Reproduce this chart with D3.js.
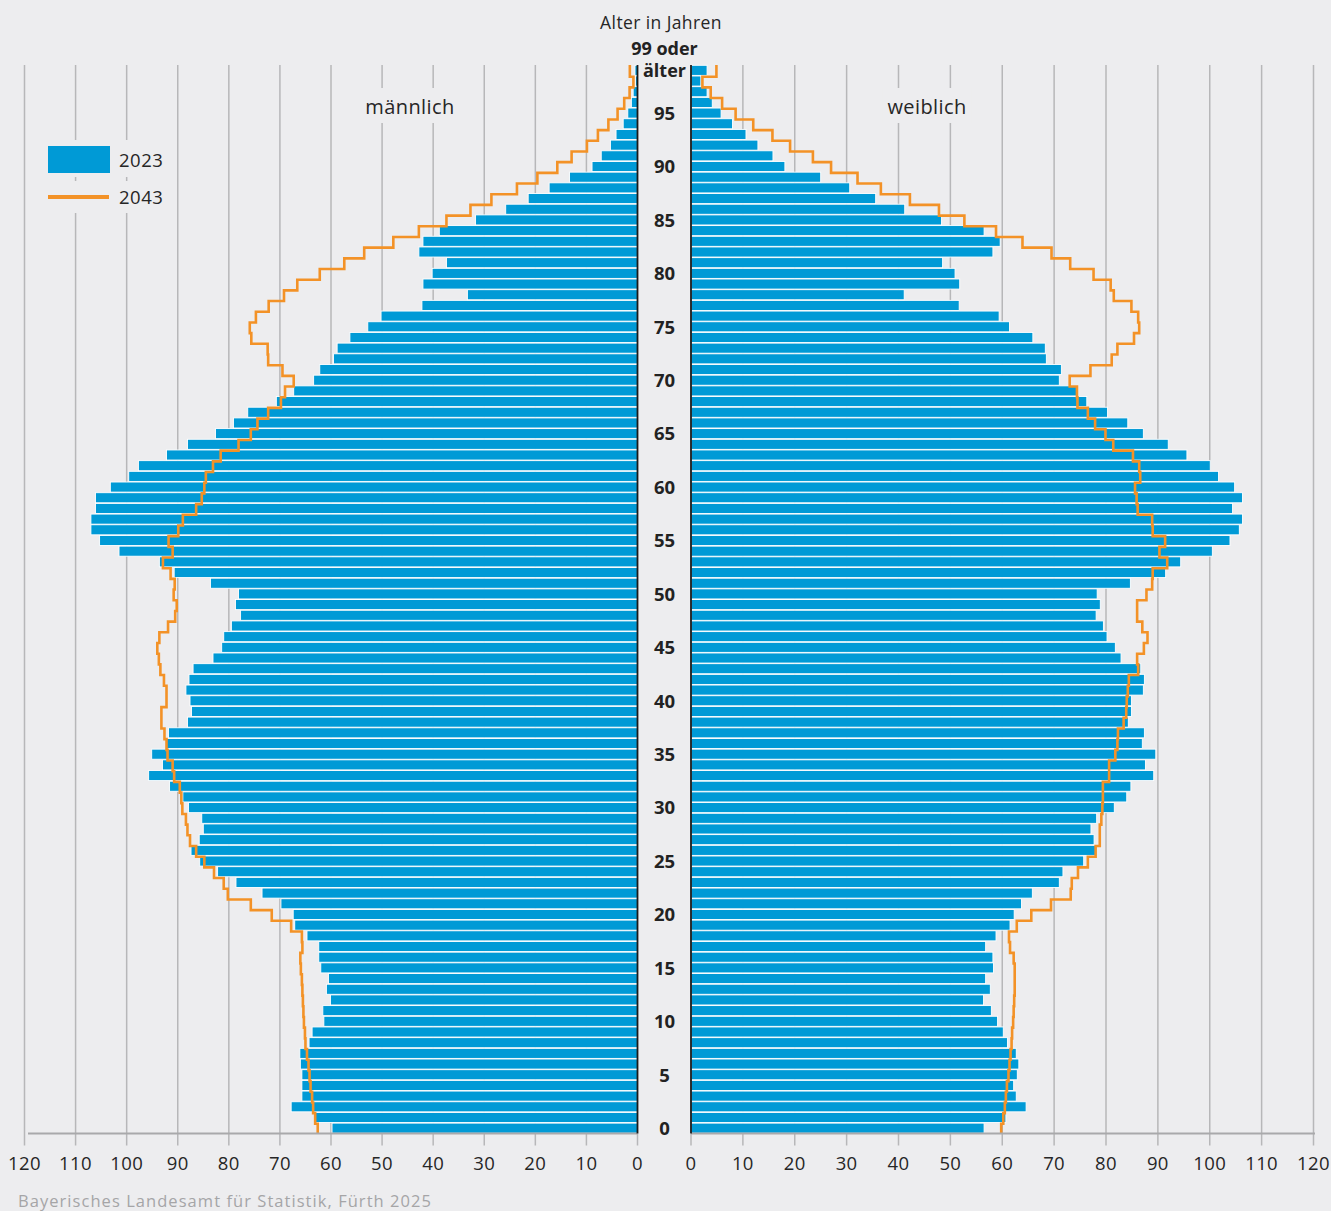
<!DOCTYPE html>
<html><head><meta charset="utf-8">
<script src="https://cdn.jsdelivr.net/npm/d3@7"></script>
<style>
html,body{margin:0;padding:0;background:#ededef;}
svg{display:block;font-family:"Open Sans",Roboto,"Liberation Sans",Arial,sans-serif;}
</style></head>
<body><svg id="c" width="1331" height="1211"></svg>
<script>
// Ages 0..99 (99 = "99 oder älter"), values in thousands
const ages = d3.range(0, 100);
const male2023 = [59.8,63.2,67.8,65.7,65.7,65.7,66.0,66.1,64.3,63.7,
61.4,61.6,60.1,60.9,60.5,62.0,62.4,62.4,64.7,67.1,
67.4,69.8,73.5,78.6,82.2,85.7,87.4,85.8,85.0,85.3,
87.9,89.0,91.6,95.7,93.0,95.1,92.2,91.8,88.1,87.3,
87.6,88.4,87.8,87.0,83.1,81.4,81.0,79.5,77.7,78.7,
78.1,83.6,90.7,93.6,101.5,105.3,107.0,107.0,106.1,106.1,
103.2,99.6,97.7,92.2,88.1,82.6,79.1,76.3,70.7,67.3,
63.4,62.2,59.5,58.8,56.3,52.8,50.2,42.2,33.3,42.0,
40.2,37.4,42.8,42.0,38.8,31.7,25.8,21.4,17.3,13.3,
8.9,7.1,5.3,4.2,2.8,1.9,1.2,0.85,0.4,0.5];
const male2043 = [62.6,63.1,63.5,63.7,64.0,64.2,64.4,64.7,65.0,65.1,
65.3,65.4,65.5,65.6,65.7,65.9,66.0,65.6,65.7,67.8,
71.6,75.7,80.2,81.0,82.9,84.8,86.4,87.6,88.1,88.4,
89.1,89.3,89.6,90.7,91.0,92.0,92.2,92.6,93.2,93.2,
92.2,92.2,92.7,93.4,93.7,94.0,93.6,91.9,90.5,90.2,
90.8,90.6,91.4,92.9,91.0,91.8,89.9,89.0,86.4,85.3,
84.8,84.5,83.1,81.6,78.1,75.7,74.4,72.3,69.8,69.0,
67.3,69.5,72.3,72.4,75.6,75.9,74.7,72.2,69.2,66.6,
62.2,57.4,53.5,47.8,42.8,37.4,32.7,28.6,23.6,19.6,
15.7,12.9,9.9,7.75,5.7,3.9,2.6,1.55,0.8,1.5];
const female2023 = [56.5,60.7,64.6,62.7,62.2,62.9,63.2,62.7,61.0,60.2,
59.1,57.9,56.4,57.7,56.8,58.3,58.2,56.8,58.8,61.5,
62.3,63.7,65.8,71.0,71.7,75.7,78.1,77.7,77.1,78.2,
81.6,84.0,84.8,89.2,87.6,89.6,87.0,87.4,84.3,84.9,
84.9,87.2,87.4,86.7,82.9,81.8,80.2,79.5,78.1,78.9,
78.3,84.7,91.5,94.4,100.5,103.9,105.7,106.3,104.4,106.3,
104.8,101.7,100.1,95.6,92.0,87.2,84.2,80.3,76.3,74.3,
71.0,71.4,68.5,68.3,65.9,61.4,59.4,51.7,41.1,51.8,
50.9,48.5,58.2,59.6,56.5,48.3,41.2,35.6,30.6,25.0,
18.1,15.8,12.9,10.6,8.0,5.8,4.1,3.1,1.9,3.1];
const female2043 = [59.8,60.2,60.5,60.7,60.9,61.2,61.4,61.6,61.8,61.9,
62.1,62.2,62.3,62.4,62.4,62.4,62.2,61.5,61.3,62.8,
65.6,69.4,73.2,73.4,74.6,76.5,78.0,78.8,78.8,79.1,
79.3,79.4,79.4,80.6,80.6,81.8,82.2,82.3,83.4,83.9,
84.0,84.2,84.4,86.2,86.0,87.3,88.0,87.0,86.0,86.0,
87.8,88.9,89.0,91.8,90.3,91.4,89.0,88.9,86.1,85.9,
85.6,86.6,86.4,85.2,81.4,79.9,77.9,76.5,74.5,74.4,
73.0,77.0,81.1,82.2,85.4,86.4,86.2,84.9,81.5,80.9,
77.6,73.1,69.5,63.9,58.8,52.7,47.8,42.2,36.6,32.1,
27.0,23.5,19.1,15.7,12.0,8.6,6.0,3.8,2.2,4.9];
const xTicks = [0,10,20,30,40,50,60,70,80,90,100,110,120];
const ageLabels = [0,5,10,15,20,25,30,35,40,45,50,55,60,65,70,75,80,85,90,95];
const seriesNames = ["2023","2043"];
const sideNames = ["männlich","weiblich"];
const axisTitle = ["Alter in Jahren","99 oder","älter"];
const sourceText = "Bayerisches Landesamt für Statistik, Fürth 2025";

const BG = "#ededef", BLUE = "#009ad6", ORANGE = "#f39227", GRID = "#b7b7b9", INK = "#262626";
const svg = d3.select("#c");
const xL = d3.scaleLinear().domain([0,120]).range([637.5, 24.5]);
const xR = d3.scaleLinear().domain([0,120]).range([691, 1313.5]);
const y = d3.scaleBand().domain(ages).range([1133.5, 65]).padding(0);
const bw = y.bandwidth();
const yTop = 65, yBot = 1133.5;

// gridlines (extend below axis as ticks)
const g = svg.append("g");
[xL, xR].forEach(sc => {
  g.selectAll(null).data(xTicks.filter(t=>t>0)).enter().append("line")
    .attr("x1", d=>sc(d)).attr("x2", d=>sc(d))
    .attr("y1", yTop).attr("y2", yBot+12)
    .attr("stroke", GRID).attr("stroke-width", 1.5);
});
[xL(0), xR(0)].forEach(x => g.append("line").attr("x1",x).attr("x2",x).attr("y1",yBot).attr("y2",yBot+12).attr("stroke",GRID).attr("stroke-width",1.5));

// side labels with background masking grid
function bgText(x, yy, txt, size, anchor, pad) {
  const t = svg.append("text").attr("x", x).attr("y", yy).attr("text-anchor", anchor)
    .attr("font-size", size).attr("letter-spacing", 0.4).attr("fill", INK).text(txt);
  const b = t.node().getBBox();
  svg.insert("rect", "text").attr("x", b.x - pad).attr("y", b.y - 5).attr("width", b.width + 2*pad).attr("height", b.height + 8).attr("fill", BG);
  return t;
}
bgText(410, 114, sideNames[0], 20, "middle", 5);
bgText(927, 114, sideNames[1], 20, "middle", 5);

// bars 2023
const bars = svg.append("g");
bars.selectAll(null).data(ages).enter().append("rect")
  .attr("x", a => xL(male2023[a])).attr("width", a => xL(0) - xL(male2023[a]))
  .attr("y", a => y(a) + 0.3).attr("height", bw - 0.6)
  .attr("fill", BLUE).attr("stroke", "#ffffff").attr("stroke-width", 0.9);
bars.selectAll(null).data(ages).enter().append("rect")
  .attr("x", xR(0)).attr("width", a => xR(female2023[a]) - xR(0))
  .attr("y", a => y(a) + 0.3).attr("height", bw - 0.6)
  .attr("fill", BLUE).attr("stroke", "#ffffff").attr("stroke-width", 0.9);

// step lines 2043
function stepPts(sc, vals) {
  const pts = [];
  ages.forEach(a => {
    pts.push([sc(vals[a]), y(a) + bw + 1]);
    pts.push([sc(vals[a]), y(a) + 1]);
  });
  pts[pts.length-1][1] = yTop;
  pts[0][1] = yBot;
  return pts;
}
const line = d3.line();
svg.append("path").attr("d", line(stepPts(xL, male2043))).attr("fill","none").attr("stroke",ORANGE).attr("stroke-width",2.6);
svg.append("path").attr("d", line(stepPts(xR, female2043))).attr("fill","none").attr("stroke",ORANGE).attr("stroke-width",2.6);

// bottom axis lines
svg.append("line").attr("x1", 28).attr("x2", xL(0)).attr("y1", yBot).attr("y2", yBot).attr("stroke", "#a9a9ab").attr("stroke-width", 2);
svg.append("line").attr("x1", xR(0)).attr("x2", 1315).attr("y1", yBot).attr("y2", yBot).attr("stroke", "#a9a9ab").attr("stroke-width", 2);

// zero axis lines
svg.append("line").attr("x1", xL(0)).attr("x2", xL(0)).attr("y1", yTop).attr("y2", yBot).attr("stroke", "#1a1a1a").attr("stroke-width", 1.8);
svg.append("line").attr("x1", xR(0)).attr("x2", xR(0)).attr("y1", yTop).attr("y2", yBot).attr("stroke", "#1a1a1a").attr("stroke-width", 1.8);

// tick labels
const tl = svg.append("g").attr("font-size", 18.5).attr("letter-spacing", 0.4).attr("fill", INK).attr("text-anchor", "middle");
xTicks.forEach(t => {
  tl.append("text").attr("x", xL(t)).attr("y", 1170).text(t);
  tl.append("text").attr("x", xR(t)).attr("y", 1170).text(t);
});

// age labels
const cx = 664.5;
const al = svg.append("g").attr("font-size", 18.5).attr("font-weight", "bold").attr("fill", "#222").attr("text-anchor", "middle");
ageLabels.forEach(a => al.append("text").attr("x", cx).attr("y", y(a) + bw/2 + 6.8).text(a));
al.append("text").attr("x", cx).attr("y", y(99) + bw/2 + 6.5).attr("font-size", 18).text(axisTitle[2]);
svg.append("text").attr("x", cx).attr("y", 54.5).attr("text-anchor","middle").attr("font-size",18).attr("font-weight","bold").attr("fill","#222").text(axisTitle[1]);
svg.append("text").attr("x", 661).attr("y", 29).attr("text-anchor","middle").attr("font-size",17.5).attr("letter-spacing",0.4).attr("fill",INK).text(axisTitle[0]);

// legend
const lg = svg.append("g");
lg.append("rect").attr("x", 34).attr("y", 140).attr("width", 140).attr("height", 37).attr("fill", BG);
lg.append("rect").attr("x", 34).attr("y", 181).attr("width", 140).attr("height", 32).attr("fill", BG);
lg.append("rect").attr("x", 48).attr("y", 146).attr("width", 62).attr("height", 27).attr("fill", BLUE);
lg.append("line").attr("x1", 48).attr("x2", 109).attr("y1", 197).attr("y2", 197).attr("stroke", ORANGE).attr("stroke-width", 4);
lg.append("text").attr("x", 119).attr("y", 166.5).attr("font-size", 18.5).attr("letter-spacing", 0.5).attr("fill", INK).text(seriesNames[0]);
lg.append("text").attr("x", 119).attr("y", 203.5).attr("font-size", 18.5).attr("letter-spacing", 0.5).attr("fill", INK).text(seriesNames[1]);

// source
svg.append("text").attr("x", 18).attr("y", 1206.5).attr("font-size", 16.5).attr("letter-spacing", 1.05).attr("fill", "#a5a5a7").text(sourceText);
</script></body></html>
